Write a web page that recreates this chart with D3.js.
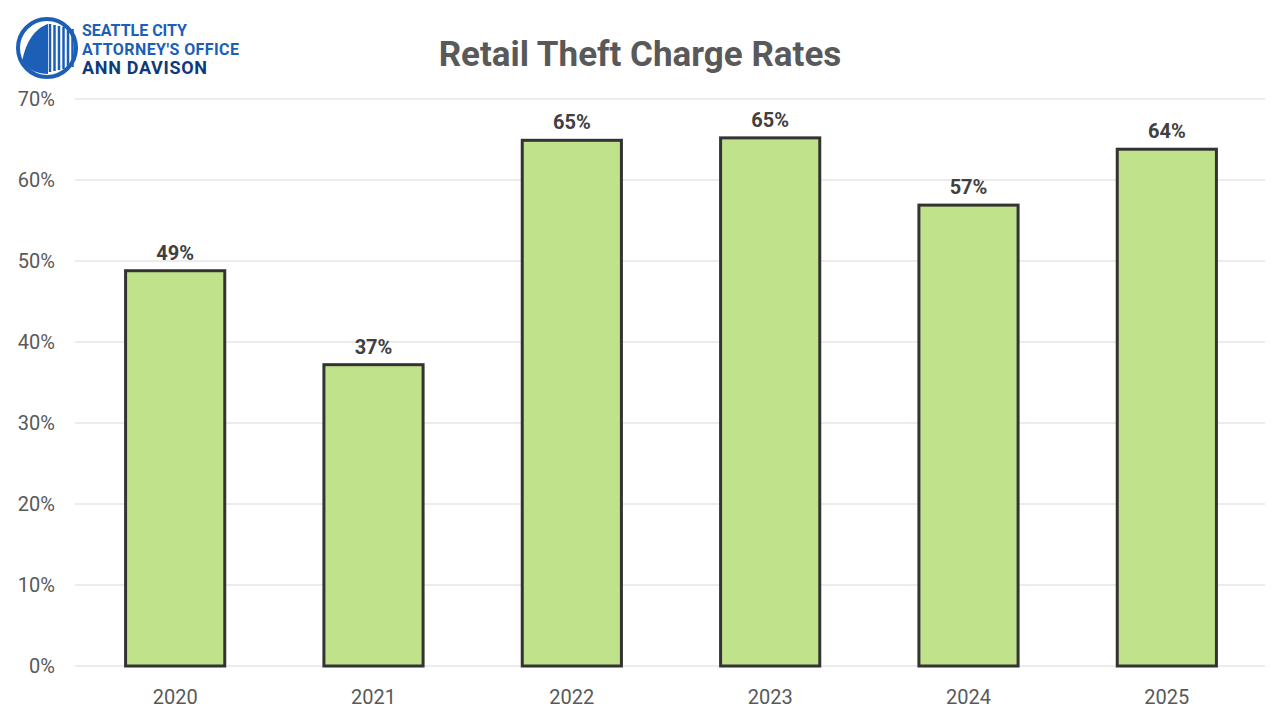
<!DOCTYPE html>
<html><head><meta charset="utf-8">
<script src="https://cdn.jsdelivr.net/npm/d3@7"></script>
<style>body{margin:0;background:#fff}</style></head>
<body><svg id="c" width="1280" height="720"></svg>
<script>
const categories=["2020","2021","2022","2023","2024","2025"];
const values=[48.8,37.2,64.9,65.2,56.9,63.8];
const labels=["49%","37%","65%","65%","57%","64%"];
const yTicks=[0,10,20,30,40,50,60,70];
const svg=d3.select("#c");
const x=d3.scaleBand().domain(categories).range([76,1266]).paddingInner(0.5).paddingOuter(0.25);
const y=d3.scaleLinear().domain([0,70]).range([666,99]);
const font="Roboto, 'Open Sans', sans-serif";
svg.append("g").selectAll("line").data(yTicks).join("line")
 .attr("x1",75).attr("x2",1265).attr("y1",d=>y(d)).attr("y2",d=>y(d))
 .attr("stroke","#d9d9d9").attr("stroke-width",1);
svg.append("g").selectAll("text").data(yTicks).join("text")
 .attr("x",55).attr("y",d=>y(d)+7).attr("text-anchor","end")
 .attr("font-family",font).attr("font-size",20).attr("fill","#595959").text(d=>d+"%");
svg.append("g").selectAll("rect").data(values).join("rect")
 .attr("x",(d,i)=>x(categories[i])).attr("width",x.bandwidth())
 .attr("y",d=>y(d)).attr("height",d=>y(0)-y(d))
 .attr("fill","#c0e28b").attr("stroke","#333").attr("stroke-width",3);
svg.append("g").selectAll("text").data(values).join("text")
 .attr("x",(d,i)=>x(categories[i])+x.bandwidth()/2).attr("y",d=>y(d)-11)
 .attr("text-anchor","middle").attr("font-family",font).attr("font-weight","bold")
 .attr("font-size",20).attr("fill","#404040").text((d,i)=>labels[i]);
svg.append("g").selectAll("text").data(categories).join("text")
 .attr("x",d=>x(d)+x.bandwidth()/2).attr("y",704).attr("text-anchor","middle")
 .attr("font-family",font).attr("font-size",20).attr("fill","#595959").text(d=>d);
svg.append("text").attr("x",640).attr("y",66).attr("text-anchor","middle")
 .attr("font-family",font).attr("font-weight","bold").attr("font-size",35).attr("fill","#595959")
 .text("Retail Theft Charge Rates");
// logo
const g=svg.append("g");
g.append("circle").attr("cx",47).attr("cy",48).attr("r",29).attr("fill","none").attr("stroke","#1b5fb6").attr("stroke-width",4);
for(let i=0;i<6;i++) g.append("line").attr("x1",50+i*4.5).attr("x2",50+i*4.5).attr("y1",24+i*1).attr("y2",72-i*1).attr("stroke","#1b5fb6").attr("stroke-width",2.5);
g.append("path").attr("d","M22,62 C26,40 36,28 48,24 L48,74 C38,74 28,70 22,62Z").attr("fill","#1b5fb6");
["SEATTLE CITY","ATTORNEY'S OFFICE","ANN DAVISON"].forEach((t,i)=>g.append("text").attr("x",82).attr("y",36+i*19)
 .attr("font-family","Roboto, sans-serif").attr("font-weight","bold").attr("font-size",i==2?18:16)
 .attr("fill",i==2?"#0d3a7a":"#1b5fb6").attr("textLength",i==0?105:i==1?157:125).text(t));
</script></body></html>
